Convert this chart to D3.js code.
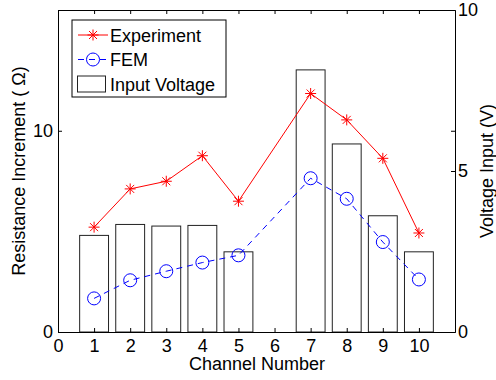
<!DOCTYPE html>
<html>
<head>
<meta charset="utf-8">
<script src="https://cdn.jsdelivr.net/npm/d3@7"></script>
<style>
  html, body { margin: 0; padding: 0; background: #fff; }
  svg { display: block; }
  text { font-family: "Liberation Sans", Arial, Helvetica, sans-serif; }
</style>
</head>
<body>
<svg id="chart" width="496" height="380"></svg>
<script>
// ---- data ----
const channels = [1, 2, 3, 4, 5, 6, 7, 8, 9, 10];
const experiment = [5.21, 7.11, 7.49, 8.76, 6.50, null, 11.85, 10.54, 8.63, 4.92];
const fem = [1.67, 2.57, 3.02, 3.45, 3.81, null, 7.64, 6.62, 4.47, 2.61];
const inputVoltage = [3.0, 3.34, 3.29, 3.31, 2.49, null, 8.14, 5.84, 3.61, 2.49];
const xTicks = [0, 1, 2, 3, 4, 5, 6, 7, 8, 9, 10];
const leftTicks = [0, 10];
const rightTicks = [0, 5, 10];
const legendLabels = ["Experiment", "FEM", "Input Voltage"];

// ---- layout ----
const L = 58, R = 455, T = 10, B = 332;
const FS = 18;
const svg = d3.select("#chart");

const x = d3.scaleLinear().domain([0, 11]).range([L, R]);
const yL = d3.scaleLinear().domain([0, 16]).range([B, T]);
const yR = d3.scaleLinear().domain([0, 10]).range([B, T]);

// ---- bars (right axis) ----
const barData = channels.map((c, i) => ({c, v: inputVoltage[i]})).filter(d => d.v != null);
svg.append("g").selectAll("rect").data(barData).enter().append("rect")
  .attr("x", d => x(d.c - 0.4))
  .attr("width", d => x(d.c + 0.4) - x(d.c - 0.4))
  .attr("y", d => yR(d.v))
  .attr("height", d => yR(0) - yR(d.v))
  .attr("fill", "none")
  .attr("stroke", "#222")
  .attr("stroke-width", 1);

// ---- lines ----
const expData = channels.map((c, i) => ({c, v: experiment[i]})).filter(d => d.v != null);
const femData = channels.map((c, i) => ({c, v: fem[i]})).filter(d => d.v != null);
const line = d3.line().x(d => x(d.c)).y(d => yL(d.v));

svg.append("path").datum(expData).attr("d", line)
  .attr("fill", "none").attr("stroke", "#ff0000").attr("stroke-width", 1);
svg.append("path").datum(femData).attr("d", line)
  .attr("fill", "none").attr("stroke", "#0000ff").attr("stroke-width", 1)
  .attr("stroke-dasharray", "6,5");

function starPath(cx, cy) {
  const a = 5.5, b = 4;
  return `M${cx - a},${cy}L${cx + a},${cy}M${cx},${cy - a}L${cx},${cy + a}` +
         `M${cx - b},${cy - b}L${cx + b},${cy + b}M${cx - b},${cy + b}L${cx + b},${cy - b}`;
}
svg.append("g").selectAll("path").data(expData).enter().append("path")
  .attr("d", d => starPath(x(d.c), yL(d.v)))
  .attr("stroke", "#ff0000").attr("stroke-width", 1).attr("fill", "none");
svg.append("g").selectAll("circle").data(femData).enter().append("circle")
  .attr("cx", d => x(d.c)).attr("cy", d => yL(d.v)).attr("r", 6.5)
  .attr("stroke", "#0000ff").attr("stroke-width", 1).attr("fill", "none");

// ---- axes ----
function styleAxis(g) {
  g.attr("font-size", FS).attr("font-family", '"Liberation Sans", Arial, sans-serif');
  g.selectAll("path.domain").attr("stroke", "#000").attr("stroke-width", 1);
  g.selectAll(".tick line").attr("stroke", "#000");
  g.selectAll(".tick text").attr("fill", "#000");
}
svg.append("g").attr("transform", `translate(0,${B})`)
  .call(d3.axisBottom(x).tickValues(xTicks).tickFormat(d3.format("d")).tickSize(-4).tickSizeOuter(0).tickPadding(7))
  .call(styleAxis);
svg.append("g").attr("transform", `translate(0,${T})`)
  .call(d3.axisTop(x).tickValues(xTicks).tickFormat("").tickSize(-4).tickSizeOuter(0))
  .call(styleAxis);
svg.append("g").attr("transform", `translate(${L},0)`)
  .call(d3.axisLeft(yL).tickValues(leftTicks).tickFormat(d3.format("d")).tickSize(-4).tickSizeOuter(0).tickPadding(5))
  .call(styleAxis);
svg.append("g").attr("transform", `translate(${R},0)`)
  .call(d3.axisRight(yL).tickValues(leftTicks).tickFormat("").tickSize(-4).tickSizeOuter(0))
  .call(styleAxis);
svg.append("g").attr("transform", `translate(${R},0)`)
  .call(d3.axisRight(yR).tickValues(rightTicks).tickFormat(d3.format("d")).tickSize(-4).tickSizeOuter(0).tickPadding(3))
  .call(styleAxis);

// ---- axis labels ----
svg.append("text").attr("x", (L + R) / 2 + 0.5).attr("y", 370)
  .attr("text-anchor", "middle").attr("font-size", FS).text("Channel Number");
svg.append("text").attr("transform", `translate(25,${(T + B) / 2}) rotate(-90)`)
  .attr("text-anchor", "middle").attr("font-size", FS).text("Resistance Increment ( Ω)");
svg.append("text").attr("transform", `translate(493,${(T + B) / 2}) rotate(-90)`)
  .attr("text-anchor", "middle").attr("font-size", FS).text("Voltage Input (V)");

// ---- legend ----
const lg = svg.append("g");
lg.append("rect").attr("x", 72).attr("y", 20).attr("width", 154).attr("height", 77)
  .attr("fill", "#fff").attr("stroke", "#000").attr("stroke-width", 1);
const rows = [35, 59.5, 84];
// Experiment
lg.append("line").attr("x1", 78).attr("x2", 108).attr("y1", rows[0]).attr("y2", rows[0])
  .attr("stroke", "#ff0000");
lg.append("path").attr("d", starPath(93, rows[0])).attr("stroke", "#ff0000").attr("fill", "none");
// FEM
lg.append("line").attr("x1", 78).attr("x2", 108).attr("y1", rows[1]).attr("y2", rows[1])
  .attr("stroke", "#0000ff").attr("stroke-dasharray", "6,5");
lg.append("circle").attr("cx", 93).attr("cy", rows[1]).attr("r", 6.5)
  .attr("stroke", "#0000ff").attr("fill", "none");
// Input Voltage
lg.append("rect").attr("x", 77.5).attr("y", 76).attr("width", 28).attr("height", 16)
  .attr("fill", "none").attr("stroke", "#222");
lg.selectAll("text.lab").data(legendLabels).enter().append("text")
  .attr("class", "lab").attr("x", 110).attr("y", (d, i) => rows[i] + 6.5)
  .attr("font-size", FS).text(d => d);
</script>
</body>
</html>
